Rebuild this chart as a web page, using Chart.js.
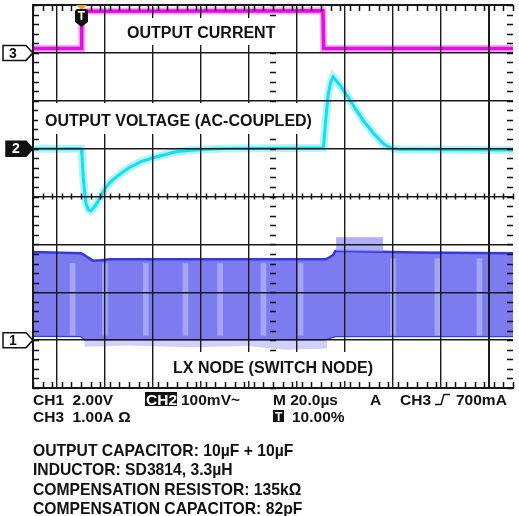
<!DOCTYPE html>
<html>
<head>
  <title>Load Transient Scope Capture</title>
  <script src="https://cdn.jsdelivr.net/npm/chart.js"></script>
  <style>
    body { margin: 0; background: #fff; }
    canvas { display: block; }
  </style>
</head>
<body>
  <canvas id="scopeChart" width="519" height="516"></canvas>
  <script>
    // time base in microseconds, trigger at t = 0 (10% of the screen)
    const timeMin = -20;
    const timeMax = 180;

    // channel ground markers (divisions from centre) and units per division
    const channelNames = ['1', '2', '3'];
    const channelOffsets = [-3, 1, 3];
    const channelScales = [2.0, 0.1, 1.0]; // CH1 V/div, CH2 V/div, CH3 A/div

    // CH3 - output current (A)
    const currentTime = [-20, 0, 0.3, 3, 100.8, 101.1, 180];
    const currentValue = [0.09, 0.09, 0.84, 0.87, 0.88, 0.09, 0.09];

    // CH2 - output voltage, AC coupled (V)
    const voltageTime = [-20, 0, 0.4, 1, 2, 3, 4, 5, 6, 8, 10, 12, 15, 20, 25, 30, 40, 50, 60,
      101, 102, 103, 104, 105, 106, 108, 110, 112, 114, 116, 118, 120, 122, 124, 126, 128, 130, 133, 180];
    const voltageValue = [0, 0, -0.013, -0.065, -0.113, -0.127, -0.130, -0.125, -0.119, -0.102, -0.084,
      -0.071, -0.058, -0.040, -0.027, -0.019, -0.006, -0.002, 0,
      0.002, 0.061, 0.113, 0.138, 0.150, 0.144, 0.132, 0.117, 0.102, 0.086, 0.071, 0.056, 0.044,
      0.031, 0.021, 0.010, 0.004, 0, -0.002, -0.003];

    // CH1 - LX switch node envelope (V)
    const lxTime = [-20, 0, 1.5, 2, 5, 8, 12, 100, 101.5, 102.5, 105, 106, 110, 140, 180];
    const lxTop = [3.68, 3.63, 3.55, 3.51, 3.32, 3.34, 3.38, 3.38, 3.38, 3.40, 3.55, 3.72, 3.72, 3.66, 3.63];
    const lxBottom = [0.18, 0.17, 0.04, 0.04, 0.04, 0.04, 0.04, 0.04, 0.04, 0.06, 0.14, 0.17, 0.17, 0.17, 0.17];

    // ringing above the envelope after the load release
    const ringTime = [106.3, 106.3, 125.8, 125.8];
    const ringValue = [3.72, 4.30, 4.30, 3.70];

    // undershoot noise below the envelope while loaded
    const noiseTime = [1.5, 1.5, 20, 45, 70, 85, 102.5, 102.5];
    const noiseValue = [0.04, -0.28, -0.22, -0.30, -0.25, -0.40, -0.35, 0.04];

    // lighter switching stripes inside the envelope
    const stripeTime = [-3.5, 10, 27, 43.5, 58, 76, 91.5, 130, 148.5, 166];
    const stripeLow = [0.2, 0.2, 0.2, 0.2, 0.2, 0.2, 0.2, 0.2, 0.2, 0.2];
    const stripeHigh = [3.2, 3.2, 3.2, 3.2, 3.2, 3.2, 3.2, 3.4, 3.4, 3.4];

    const toDiv = (ch, v) => channelOffsets[ch] + v / channelScales[ch];
    const points = (ch, xs, ys) => xs.map((t, i) => ({ x: t, y: toDiv(ch, ys[i]) }));

    const line = (data, color, width, order) => ({
      type: 'line', data: data, borderColor: color, borderWidth: width,
      pointRadius: 0, tension: 0, fill: false, order: order
    });

    const datasets = [
      Object.assign(line(points(0, noiseTime, noiseValue), 'rgba(0,0,0,0)', 0, 9),
        { fill: 'shape', backgroundColor: 'rgba(140,140,235,0.4)' }),
      line(points(0, lxTime, lxBottom), '#3838e0', 2.5, 8),
      Object.assign(line(points(0, lxTime, lxTop), '#3838e0', 2.5, 7),
        { fill: '-1', backgroundColor: '#7c7cf0' }),
      Object.assign(line(points(0, ringTime, ringValue), 'rgba(0,0,0,0)', 0, 6),
        { fill: 'shape', backgroundColor: 'rgba(150,150,245,0.75)' }),
      {
        type: 'bar', order: 5, barThickness: 5,
        data: stripeTime.map((t, i) => ({ x: t, y: [toDiv(0, stripeLow[i]), toDiv(0, stripeHigh[i])] })),
        backgroundColor: 'rgba(215,215,255,0.45)', borderWidth: 0
      },
      line(points(1, voltageTime, voltageValue), 'rgba(70,225,240,0.4)', 8, 4),
      line(points(1, voltageTime, voltageValue), '#12e0f0', 3, 3),
      line(points(2, currentTime, currentValue), 'rgba(240,80,240,0.5)', 7, 2),
      line(points(2, currentTime, currentValue), '#e010e0', 3.5, 1)
    ];

    const font = size => 'bold ' + size + 'px "Liberation Sans", Arial, sans-serif';

    const scopeDecor = {
      id: 'scopeDecor',
      afterDraw(chart) {
        const { ctx, chartArea: a, scales: { x, y } } = chart;
        ctx.save();

        // minor ticks, 5 per division, on the border and the centre cross
        const cx = x.getPixelForValue((timeMin + timeMax) / 2);
        const cy = y.getPixelForValue(0);
        ctx.strokeStyle = '#111';
        ctx.lineWidth = 1.5;
        ctx.beginPath();
        for (let i = 0; i <= 50; i++) {
          const px = Math.round(x.getPixelForValue(timeMin + i * 4)) + 0.5;
          ctx.moveTo(px, a.top); ctx.lineTo(px, a.top + 6);
          ctx.moveTo(px, a.bottom); ctx.lineTo(px, a.bottom - 6);
          ctx.moveTo(px, cy - 3); ctx.lineTo(px, cy + 3);
        }
        for (let i = 0; i <= 40; i++) {
          const py = Math.round(y.getPixelForValue(-4 + i * 0.2)) + 0.5;
          ctx.moveTo(a.left, py); ctx.lineTo(a.left + 6, py);
          ctx.moveTo(a.right, py); ctx.lineTo(a.right - 6, py);
          ctx.moveTo(cx - 3, py); ctx.lineTo(cx + 3, py);
        }
        ctx.stroke();

        // trace labels on white boxes
        const labels = [
          { text: 'OUTPUT CURRENT', x: 127, y: 38, box: [122, 18, 156, 27] },
          { text: 'OUTPUT VOLTAGE (AC-COUPLED)', x: 45, y: 126, box: [38, 103, 280, 31] },
          { text: 'LX NODE (SWITCH NODE)', x: 173, y: 373, box: [168, 352, 208, 29] }
        ];
        ctx.font = font(16);
        ctx.textBaseline = 'alphabetic';
        labels.forEach(l => {
          ctx.fillStyle = '#fff';
          ctx.fillRect(l.box[0], l.box[1], l.box[2], l.box[3]);
          ctx.fillStyle = '#111';
          ctx.fillText(l.text, l.x, l.y);
        });

        // channel ground markers on the left
        channelNames.forEach((name, ch) => {
          const py = y.getPixelForValue(channelOffsets[ch]);
          const filled = name === '2';
          const x0 = filled ? 6 : 3;
          ctx.beginPath();
          ctx.moveTo(x0, py - 7.5);
          ctx.lineTo(26, py - 7.5);
          ctx.lineTo(33, py);
          ctx.lineTo(26, py + 7.5);
          ctx.lineTo(x0, py + 7.5);
          ctx.closePath();
          ctx.fillStyle = filled ? '#111' : '#fff';
          ctx.fill();
          ctx.lineWidth = 1.5;
          ctx.strokeStyle = '#111';
          ctx.stroke();
          ctx.fillStyle = filled ? '#fff' : '#111';
          ctx.font = font(14);
          ctx.textAlign = 'center';
          ctx.textBaseline = 'middle';
          ctx.fillText(name, x0 + 10, py + 1);
        });

        // trigger position marker
        const tx = x.getPixelForValue(0);
        ctx.fillStyle = '#f0a020';
        ctx.beginPath();
        ctx.moveTo(tx - 5, a.top); ctx.lineTo(tx + 6, a.top); ctx.lineTo(tx + 0.5, a.top + 5);
        ctx.closePath(); ctx.fill();
        ctx.fillStyle = '#111';
        ctx.beginPath();
        ctx.moveTo(tx - 6, 12); ctx.quadraticCurveTo(tx - 6, 9, tx - 3, 9);
        ctx.lineTo(tx + 4, 9); ctx.quadraticCurveTo(tx + 7, 9, tx + 7, 12);
        ctx.lineTo(tx + 7, 22); ctx.lineTo(tx + 0.5, 27); ctx.lineTo(tx - 6, 22);
        ctx.closePath(); ctx.fill();
        ctx.fillStyle = '#fff';
        ctx.font = font(12);
        ctx.fillText('T', tx + 0.5, 17);

        // scope readout
        ctx.textAlign = 'left';
        ctx.textBaseline = 'alphabetic';
        ctx.font = font(15.5);
        ctx.fillStyle = '#111';
        ctx.fillText('CH1  2.00V', 33, 405);
        ctx.fillRect(145, 392, 32, 14);
        ctx.fillText('100mV~', 181, 405);
        ctx.fillText('M 20.0µs', 273, 405);
        ctx.fillText('A', 370, 405);
        ctx.fillText('CH3', 400, 405);
        ctx.fillText('700mA', 456, 405);
        ctx.fillText('CH3  1.00A Ω', 33, 422);
        ctx.fillRect(273, 410, 11, 12);
        ctx.fillText('10.00%', 292, 422);
        ctx.fillStyle = '#fff';
        ctx.fillText('CH2', 146, 405);
        ctx.font = font(12);
        ctx.fillText('T', 275, 421);
        ctx.strokeStyle = '#111';
        ctx.lineWidth = 1.4;
        ctx.beginPath();
        ctx.moveTo(435, 404.5); ctx.lineTo(441, 404.5); ctx.lineTo(444, 394.5); ctx.lineTo(450, 394.5);
        ctx.stroke();

        // test conditions
        ctx.fillStyle = '#111';
        ctx.font = font(15.7);
        ['OUTPUT CAPACITOR: 10µF + 10µF', 'INDUCTOR: SD3814, 3.3µH',
         'COMPENSATION RESISTOR: 135kΩ', 'COMPENSATION CAPACITOR: 82pF'].forEach((s, i) => {
          ctx.fillText(s, 33, 456 + i * 19.3);
        });
        ctx.restore();
      }
    };

    const edgeWidth = (ctx, lo, hi) => (ctx.tick && (ctx.tick.value === lo || ctx.tick.value === hi)) ? 2 : 1.4;

    new Chart(document.getElementById('scopeChart'), {
      type: 'line',
      data: { datasets: datasets },
      options: {
        responsive: false,
        animation: false,
        devicePixelRatio: 1,
        layout: { padding: { left: 33, top: 5, right: 6, bottom: 128 } },
        plugins: { legend: { display: false }, tooltip: { enabled: false } },
        scales: {
          x: {
            type: 'linear', min: timeMin, max: timeMax, offset: false,
            ticks: { display: false, stepSize: 20 },
            grid: { color: '#1a1a1a', lineWidth: c => edgeWidth(c, timeMin, timeMax), drawTicks: false, z: 1 },
            border: { color: '#1a1a1a', width: 2, z: 1 }
          },
          y: {
            type: 'linear', min: -4, max: 4,
            ticks: { display: false, stepSize: 1 },
            grid: { color: '#1a1a1a', lineWidth: c => edgeWidth(c, -4, 4), drawTicks: false, z: 1 },
            border: { color: '#1a1a1a', width: 2, z: 1 }
          }
        }
      },
      plugins: [scopeDecor]
    });
  </script>
</body>
</html>
